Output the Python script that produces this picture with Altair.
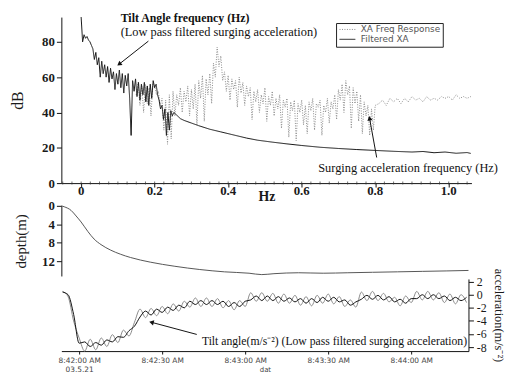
import altair as alt
import pandas as pd

SERIF = "Liberation Serif"
SANS = "DejaVu Sans"

# ---------------- Top panel: spectra (dB vs Hz) ----------------
series_names = ["XA Freq Response", "Filtered XA"]

# Filtered XA, noisy low-frequency part (grid start 0 Hz, step 0.004 Hz)
filt_noisy_start, filt_noisy_step = 0.0, 0.004
filt_noisy_db = [
    94, 80, 84, 82, 83, 81, 80, 78, 76, 70,
    74, 67, 71, 60, 69, 62, 67, 60, 66, 57,
    65, 59, 63, 53, 62, 56, 64, 54, 62, 51,
    61, 55, 62, 48, 27, 58, 52, 59, 49, 57,
    47, 56, 50, 57, 46, 55, 44, 56, 48, 58,
    54, 56, 50, 47, 42, 44, 36, 42, 27, 40,
    30, 41, 38, 40,
]
# Filtered XA, smooth part
filt_smooth_hz = [0.26, 0.27, 0.28, 0.30, 0.32, 0.35, 0.38, 0.41, 0.45, 0.48,
                  0.52, 0.56, 0.60, 0.65, 0.70, 0.75, 0.80, 0.85, 0.90, 0.93,
                  0.96, 0.99, 1.02, 1.05, 1.06]
filt_smooth_db = [38.5, 36.5, 35.5, 34, 32.5, 30.5, 29, 27.5, 25.5, 24.3,
                  23.2, 22.2, 21.3, 20.3, 19.6, 19.0, 18.5, 18.0, 17.6, 17.9,
                  17.2, 17.6, 16.9, 17.3, 16.8]

# XA Freq Response (grid start 0.15 Hz, step 0.005 Hz)
xa_a_start, xa_a_step = 0.15, 0.005
xa_a_db = [
    50, 57, 44, 55, 40, 56, 45, 54, 38, 56,
    55, 50, 52, 44, 48, 30, 47, 22, 50, 25,
    52, 38, 50, 44, 54, 40, 52, 46, 55, 38,
    53, 42, 56, 33, 58, 48, 61, 35, 59, 50,
    62, 45, 68, 60, 77, 66, 72, 58, 63, 52,
    61, 47, 59, 53, 58, 43, 60, 51, 57, 44,
    55, 49, 54, 36, 52, 46, 53, 40, 50, 45,
    54, 35, 49, 44, 52, 38, 48, 42, 50, 31,
    47, 43, 48, 26, 46, 41, 47, 24, 45, 40,
    47, 33, 44, 28, 46, 41, 48, 30, 45, 43,
    47, 27, 44, 40, 48, 34, 46, 42, 50, 36,
    53, 47, 56, 40, 58, 50, 55, 31, 54, 45,
    52, 35, 50, 28, 46, 38, 44, 27, 42, 30,
    44,
]
# XA Freq Response, high-frequency part (grid start 0.81 Hz, step 0.01 Hz)
xa_b_start, xa_b_step = 0.81, 0.01
xa_b_db = [45, 47, 44, 48, 46, 48, 45, 48, 46, 49,
           47, 48, 46, 49, 47, 48, 47, 49, 48, 49,
           47, 50, 48, 49, 48, 49]

hz_ticks = [0, 0.2, 0.4, 0.6, 0.8, 1.0]
hz_tick_labels = ["0", "0.2", "0.4", "0.6", "0.8", "1.0"]
hz_minor_step = 0.025
db_ticks = [0, 20, 40, 60, 80]

# ---------------- Depth panel ----------------
depth_t = [-6.4, -5.4, -2.9, -1.1, 0.7, 3.2, 5.4, 7.9, 11.4, 15,
           18.6, 25.7, 34.6, 43.6, 52.5, 61.4, 66, 70.4, 79.3, 88.2,
           97.1, 106, 115, 124, 132.9, 140.7]
depth_m = [0, 0.2, 1.0, 2.2, 3.5, 5.6, 7.2, 8.4, 9.6, 10.5,
           11.2, 12.2, 13.1, 13.8, 14.3, 14.6, 14.9, 14.7, 14.5, 14.6,
           14.5, 14.4, 14.3, 14.2, 14.1, 14.0]
depth_ticks = [0, 4, 8, 12]

# ---------------- Acceleration panel (seconds after 8:42:00, step 2 s) ----------------
acc_start, acc_step = -6, 2
acc_raw = [
    0.5, -0.3, -4.0, -6.6, -8.6, -6.8, -8.4, -6.6, -7.9, -6.1,
    -7.3, -5.4, -6.3, -4.2, -2.2, -3.5, -2.1, -3.2, -1.8, -2.9,
    -1.4, -2.5, -1.0, -1.9, -0.5, -1.8, -0.5, -1.8, -0.6, -2.0,
    -0.9, -2.3, -0.9, -1.8, 0.3, -1.0, 0.3, -1.0, 0.2, -1.3,
    0.1, -1.3, -0.1, -1.6, -0.3, -1.7, -0.1, -1.3, 0.1, -1.4,
    -0.3, -1.8, -0.8, -1.9, 0.4, -0.9, 0.5, -0.9, 0.2, -1.1,
    -0.4, -1.7, -0.2, -1.2, 0.5, -0.8, 0.5, -0.8, 0.3, -1.2,
    0.1, -1.4, 0.0, -1.2,
]
acc_filt = [
    0.4, 0.0, -3.0, -7.4, -7.2, -7.9, -7.3, -7.7, -6.9, -7.2,
    -6.4, -6.5, -5.5, -4.8, -3.4, -2.5, -3.1, -2.2, -2.7, -1.9,
    -2.4, -1.6, -2.0, -1.0, -1.5, -0.9, -1.5, -0.9, -1.5, -1.0,
    -1.8, -1.2, -1.8, -1.0, -0.8, -0.2, -0.9, -0.2, -0.9, -0.3,
    -1.0, -0.5, -1.1, -0.6, -1.3, -0.6, -1.2, -0.4, -1.0, -0.4,
    -1.1, -0.8, -1.6, -1.1, -0.7, -0.1, -0.7, -0.1, -0.8, -0.3,
    -1.1, -0.7, -1.3, -0.6, -0.6, 0.0, -0.6, 0.0, -0.6, -0.2,
    -0.9, -0.4, -0.9, -0.4,
]
acc_ticks = [2, 0, -2, -4, -6, -8]
time_ticks = [0, 30, 60, 90, 120]
time_labels = ["8:42:00 AM", "8:42:30 AM", "8:43:00 AM", "8:43:30 AM", "8:44:00 AM"]
date_label = "03.5.21"

# ---------------- top chart ----------------
filt_hz = [round(filt_noisy_start + filt_noisy_step * i, 4) for i in range(len(filt_noisy_db))] + filt_smooth_hz
filt_db = filt_noisy_db + filt_smooth_db
xa_hz = ([round(xa_a_start + xa_a_step * i, 4) for i in range(len(xa_a_db))]
         + [round(xa_b_start + xa_b_step * i, 4) for i in range(len(xa_b_db))])
xa_db = xa_a_db + xa_b_db

df_xa = pd.DataFrame({"hz": xa_hz, "db": xa_db, "series": series_names[0]})
df_filt = pd.DataFrame({"hz": filt_hz, "db": filt_db, "series": series_names[1]})
df_minor = pd.DataFrame({"hz": [round(-0.05 + hz_minor_step * i, 3) for i in range(45)], "db": 0.0})
# tick labels of the Hz axis, set just under the axis line (through the dB scale)
df_hz_labels = pd.DataFrame({"hz": hz_ticks, "db": -4.6, "label": hz_tick_labels})

hz_scale = alt.Scale(domain=[-0.0538, 1.0618], nice=False, zero=False)
db_scale = alt.Scale(domain=[0, 94], nice=False)

x_top = alt.X("hz:Q", scale=hz_scale,
              axis=alt.Axis(values=hz_ticks, labels=False, tickSize=4,
                            title="Hz", titleFont=SERIF, titleFontSize=14, titleFontWeight="bold",
                            titleY=14, titleBaseline="middle", titleColor="#1a1a1a"))
y_top = alt.Y("db:Q", scale=db_scale,
              axis=alt.Axis(values=db_ticks, tickCount=len(db_ticks), labelFont=SERIF, labelFontSize=13,
                            labelFontWeight="bold", labelColor="#1a1a1a", tickSize=5,
                            labelPadding=2, labelOverlap=False, title="dB", titleFont=SERIF,
                            titleFontSize=16, titleFontWeight="normal", titlePadding=16,
                            titleColor="#1a1a1a"))

legend_cfg = dict(title=None, orient="none", legendX=278, legendY=6, symbolType="M-2,0L2,0",
                  symbolSize=64, symbolStrokeWidth=1, symbolOffset=5, labelFont=SANS,
                  labelFontSize=9, labelColor="#555", padding=2, rowPadding=0,
                  strokeColor="#222", fillColor="white", labelOffset=9, cornerRadius=0)
color_enc = alt.Color("series:N", scale=alt.Scale(domain=series_names, range=["#8a8a8a", "#111111"]),
                      legend=alt.Legend(**legend_cfg))
dash_enc = alt.StrokeDash("series:N", scale=alt.Scale(domain=series_names, range=[[1, 1.5], [1, 0]]),
                          legend=alt.Legend(**legend_cfg))

xa_line = alt.Chart(df_xa).mark_line(strokeWidth=1).encode(x=x_top, y=y_top, color=color_enc, strokeDash=dash_enc)
filt_line = alt.Chart(df_filt).mark_line(strokeWidth=1).encode(x=x_top, y=y_top, color=color_enc, strokeDash=dash_enc)
minor_ticks = alt.Chart(df_minor).mark_tick(orient="vertical", size=3, thickness=1, color="#333").encode(
    x=x_top, y=y_top)
hz_labels = alt.Chart(df_hz_labels).mark_text(align="center", baseline="middle", font=SERIF, fontSize=13,
                                              fontWeight="bold", color="#1a1a1a").encode(
    x=x_top, y=y_top, text="label:N")

top_notes = pd.DataFrame({
    "hz": [0.1075, 0.1075, 0.645],
    "db": [93.3, 85.5, 8.4],
    "label": ["Tilt Angle frequency (Hz)", "(Low pass filtered surging acceleration)",
              "Surging acceleration frequency (Hz)"],
})
notes_bold = alt.Chart(top_notes.iloc[[0]]).mark_text(align="left", baseline="middle", font=SERIF,
                                                      fontSize=12, fontWeight="bold", color="#111").encode(
    x=x_top, y=y_top, text="label:N")
notes_norm = alt.Chart(top_notes.iloc[[1, 2]]).mark_text(align="left", baseline="middle", font=SERIF,
                                                         fontSize=12.5, color="#111").encode(
    x=x_top, y=y_top, text="label:N")

# arrows: tail (hz, db) -> head (hz2, db2); heads drawn at the head points
top_arrows = pd.DataFrame({"hz": [0.183, 0.804], "db": [80.4, 14.5],
                           "hz2": [0.105, 0.785], "db2": [67.6, 36.3], "angle": [233, 350]})
top_heads = pd.DataFrame({"hz": top_arrows["hz2"], "db": top_arrows["db2"], "angle": top_arrows["angle"]})
arrow_rules = alt.Chart(top_arrows).mark_rule(color="#111", strokeWidth=1).encode(
    x=x_top, y=y_top, x2="hz2:Q", y2="db2:Q")
heads = alt.Chart(top_heads).mark_point(shape="triangle", filled=True, size=28, color="#111",
                                        opacity=1).encode(
    x=x_top, y=y_top, angle=alt.Angle("angle:Q", scale=None))

top = alt.layer(xa_line, filt_line, minor_ticks, hz_labels, notes_bold, notes_norm, arrow_rules,
                heads).properties(width=415, height=168)

# ---------------- depth chart ----------------
time_domain = [-6.43, 140.7]
df_depth = pd.DataFrame({"t": depth_t, "depth": depth_m})
depth = alt.Chart(df_depth).mark_line(color="#555", strokeWidth=1, interpolate="monotone").encode(
    x=alt.X("t:Q", scale=alt.Scale(domain=time_domain, nice=False, zero=False), axis=None),
    y=alt.Y("depth:Q", scale=alt.Scale(domain=[0, 15.2], reverse=True, nice=False, zero=False),
            axis=alt.Axis(values=depth_ticks, tickCount=len(depth_ticks), labelFont=SERIF,
                          labelFontSize=13, labelFontWeight="bold",
                          labelColor="#1a1a1a", tickSize=5, labelPadding=2, labelOverlap=False,
                          title="depth(m)", titleFont=SERIF, titleFontSize=15, titleFontWeight="normal",
                          titlePadding=13, titleColor="#1a1a1a")),
).properties(width=412, height=71)

# ---------------- acceleration chart ----------------
acc_t = [acc_start + acc_step * i for i in range(len(acc_raw))]
df_raw = pd.DataFrame({"t": acc_t, "a": acc_raw})
df_fil = pd.DataFrame({"t": acc_t, "a": acc_filt})

label_items = ["['" + time_labels[0] + "', '" + date_label + "']"] + ["'" + s + "'" for s in time_labels[1:]]
time_label_expr = "[" + ", ".join(label_items) + "][round(datum.value / 30)]"

x_time = alt.X("t:Q", scale=alt.Scale(domain=time_domain, nice=False, zero=False),
               axis=alt.Axis(values=time_ticks, tickCount=len(time_ticks), labelExpr=time_label_expr,
                             labelFont=SANS, labelFontSize=7.5, labelLineHeight=8.5, labelColor="#444",
                             tickSize=3, labelPadding=3, labelOverlap=False, labelFlush=False,
                             title="dat", titleFont=SANS, titleFontSize=7, titleFontWeight="normal",
                             titleColor="#444", titleY=19, titleBaseline="middle"))
y_acc = alt.Y("a:Q", scale=alt.Scale(domain=[-8.6, 2.4], nice=False, zero=False),
              axis=alt.Axis(orient="right", values=acc_ticks, tickCount=len(acc_ticks),
                            labelExpr="datum.value + ''",
                            labelFont=SERIF, labelFontSize=12, labelColor="#1a1a1a", tickSize=5,
                            labelPadding=3, labelOverlap=False, labelFlush=False,
                            title="acceleration(m/s⁻²)", titleFont=SERIF, titleFontSize=12.5,
                            titleFontWeight="normal", titlePadding=5, titleColor="#1a1a1a"))

raw_line = alt.Chart(df_raw).mark_line(color="#8a8a8a", strokeWidth=1, interpolate="monotone").encode(
    x=x_time, y=y_acc)
filt_acc_line = alt.Chart(df_fil).mark_line(color="#111", strokeWidth=1, interpolate="monotone").encode(
    x=x_time, y=y_acc)

acc_note = pd.DataFrame({"t": [140.2], "a": [-7.0],
                         "label": ["Tilt angle(m/s⁻²) (Low pass filtered surging acceleration)"]})
acc_text = alt.Chart(acc_note).mark_text(align="right", baseline="middle", font=SERIF, fontSize=11.8,
                                         color="#111").encode(x=x_time, y=y_acc, text="label:N")
acc_arrow = pd.DataFrame({"t": [42.5], "a": [-6.06], "t2": [26.4], "a2": [-4.24]})
acc_head_df = pd.DataFrame({"t": acc_arrow["t2"], "a": acc_arrow["a2"], "angle": [285]})
acc_rule = alt.Chart(acc_arrow).mark_rule(color="#111", strokeWidth=1).encode(
    x=x_time, y=y_acc, x2="t2:Q", y2="a2:Q")
acc_head = alt.Chart(acc_head_df).mark_point(shape="triangle", filled=True, size=28, color="#111",
                                             opacity=1).encode(
    x=x_time, y=y_acc, angle=alt.Angle("angle:Q", scale=None))

accel = alt.layer(raw_line, filt_acc_line, acc_text, acc_rule, acc_head).properties(width=412, height=73)

bottom = alt.vconcat(depth, accel, spacing=3, bounds="flush")

chart = alt.vconcat(top, bottom, spacing=23, bounds="flush").resolve_scale(
    color="independent", strokeDash="independent"
).properties(
    padding={"left": 2, "top": 2, "right": 4, "bottom": 0}
).configure_axis(
    domainColor="#111", tickColor="#111", grid=False, domainWidth=1, tickWidth=1,
    labelOverlap=False
).configure_view(
    strokeWidth=0
)

chart.save("out.html", embed_options={"renderer": "svg", "actions": False})
